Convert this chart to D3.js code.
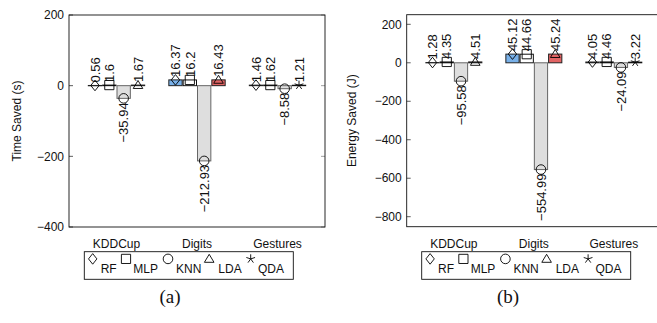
<!DOCTYPE html>
<html><head><meta charset="utf-8">
<script src="https://cdn.jsdelivr.net/npm/d3@7"></script>
<style>body{margin:0;background:#fff} svg{display:block}</style>
</head><body><svg id="c" width="657" height="323"></svg>
<script>
const categories = ["KDDCup", "Digits", "Gestures"];
const seriesNames = ["RF", "MLP", "KNN", "LDA", "QDA"];

// Time saved (s)
const timeRF  = [0.56, 16.37, 1.46];
const timeMLP = [1.6, 16.2, 1.62];
const timeKNN = [-35.94, -212.93, -8.58];
const timeLDA = [1.67, 16.43, null];
const timeQDA = [null, null, 1.21];
const timeTicks = [-400, -200, 0, 200];

// Energy saved (J)
const energyRF  = [1.28, 45.12, 4.05];
const energyMLP = [4.35, 44.66, 4.46];
const energyKNN = [-95.58, -554.99, -24.09];
const energyLDA = [4.51, 45.24, null];
const energyQDA = [null, null, 3.22];
const energyTicks = [-800, -600, -400, -200, 0, 200];

const FONT = "'Liberation Sans', Arial, Helvetica, sans-serif";
const styles = {
  RF:  {fill: "#78b0e8", stroke: "#222"},
  MLP: {fill: "#ffffff", stroke: "#111"},
  KNN: {fill: "#dedede", stroke: "#666"},
  LDA: {fill: "#e26464", stroke: "#222"},
  QDA: {fill: "#9ad09a", stroke: "#111"}
};

function markerPath(name) {
  switch (name) {
    case "RF":  return "M0,-5.3L4.2,0L0,5.3L-4.2,0Z";
    case "MLP": return "M-4.6,-4.6H4.6V4.6H-4.6Z";
    case "KNN": return d3.symbol(d3.symbolCircle, Math.PI * 4.8 * 4.8)();
    case "LDA": return "M0,-4.6L4.8,3.4L-4.8,3.4Z";
    case "QDA": {
      let p = "";
      for (let k = 0; k < 5; k++) {
        const a = -Math.PI / 2 + k * 2 * Math.PI / 5;
        p += "M0,0L" + (4.6 * Math.cos(a)).toFixed(2) + "," + (4.6 * Math.sin(a)).toFixed(2);
      }
      return p;
    }
  }
}

function fmt(v) {
  const s = String(Math.abs(v));
  return v < 0 ? "\u2212" + s : s;
}

const svg = d3.select("#c");

function drawPanel(o) {
  const g = svg.append("g");
  const x0 = d3.scalePoint().domain(categories).range([o.left, o.right]).padding(0.59);
  const y = d3.scaleLinear().domain(o.domain).range([o.bottom, o.top]);
  const inner = x0.step() * 0.7;

  // y tick labels and ticks
  o.ticks.forEach(t => {
    g.append("text").attr("x", o.left - 5).attr("y", y(t)).attr("dy", "0.35em")
      .attr("text-anchor", "end").attr("font-family", FONT).attr("font-size", 12)
      .attr("fill", "#111").text(fmt(t));
    g.append("line").attr("x1", o.left).attr("x2", o.left + 4).attr("y1", y(t)).attr("y2", y(t))
      .attr("stroke", "#333").attr("stroke-width", 0.8);
    g.append("line").attr("x1", o.right - 4).attr("x2", o.right).attr("y1", y(t)).attr("y2", y(t))
      .attr("stroke", "#888").attr("stroke-width", 0.8);
  });

  // bars
  categories.forEach((cat, ci) => {
    const present = seriesNames.filter(s => o.data[s][ci] != null);
    const x1 = d3.scaleBand().domain(present).range([-inner / 2, inner / 2]).paddingInner(0.07);
    present.forEach(s => {
      const v = o.data[s][ci];
      const bx = x0(cat) + x1(s);
      const y0 = y(0), yv = y(v);
      g.append("rect").attr("x", bx).attr("width", x1.bandwidth())
        .attr("y", Math.min(y0, yv)).attr("height", Math.max(Math.abs(y0 - yv), 0.3))
        .attr("fill", styles[s].fill).attr("stroke", styles[s].stroke).attr("stroke-width", 1);
    });
    present.forEach(s => {
      const v = o.data[s][ci];
      const cx = x0(cat) + x1(s) + x1.bandwidth() / 2;
      const cy = y(v);
      g.append("path").attr("d", markerPath(s)).attr("transform", `translate(${cx},${cy})`)
        .attr("fill", "none").attr("stroke", "#000").attr("stroke-width", 0.9);
      g.append("text").attr("transform", `translate(${cx},${cy}) rotate(-90)`)
        .attr("x", v >= 0 ? 3 : -4).attr("dy", "0.36em")
        .attr("text-anchor", v >= 0 ? "start" : "end")
        .attr("font-family", FONT).attr("font-size", 13).attr("fill", "#111")
        .text(fmt(v));
    });
  });

  // frame
  g.append("rect").attr("x", o.left).attr("y", o.top).attr("width", o.right - o.left)
    .attr("height", o.bottom - o.top).attr("fill", "none").attr("stroke", "#111").attr("stroke-width", 0.9);

  // category labels
  categories.forEach(cat => {
    g.append("text").attr("x", x0(cat)).attr("y", o.bottom + 21).attr("text-anchor", "middle")
      .attr("font-family", FONT).attr("font-size", 12).attr("fill", "#111").text(cat);
  });

  // axis title
  g.append("text").attr("transform", `translate(${o.titleX},${(o.top + o.bottom) / 2}) rotate(-90)`)
    .attr("dy", "0.35em").attr("text-anchor", "middle").attr("font-family", FONT)
    .attr("font-size", 12).attr("fill", "#111").text(o.title);

  // legend
  const lg = g.append("g").attr("transform", `translate(${o.legendX},251.7)`);
  lg.append("rect").attr("width", 209).attr("height", 27.6).attr("fill", "#fff")
    .attr("stroke", "#111").attr("stroke-width", 0.9);
  const mx = [8.4, 41.7, 83.7, 124.9, 166.4];
  const tx = [16.4, 49, 91.7, 134, 173.7];
  seriesNames.forEach((s, i) => {
    lg.append("path").attr("d", markerPath(s)).attr("transform", `translate(${mx[i]},7.2)`)
      .attr("fill", "none").attr("stroke", "#000").attr("stroke-width", 0.9);
    lg.append("text").attr("x", tx[i]).attr("y", 21.6).attr("font-family", FONT)
      .attr("font-size", 12).attr("fill", "#111").text(s);
  });

  // caption
  g.append("text").attr("x", o.captionX).attr("y", 303).attr("text-anchor", "middle")
    .attr("font-family", "'Liberation Serif', 'Times New Roman', serif").attr("font-size", 19)
    .attr("fill", "#111").text(o.caption);
}

drawPanel({
  left: 69, right: 325, top: 15, bottom: 227,
  domain: [-400, 200], ticks: timeTicks,
  data: {RF: timeRF, MLP: timeMLP, KNN: timeKNN, LDA: timeLDA, QDA: timeQDA},
  title: "Time Saved (s)", titleX: 16.5, legendX: 84.3,
  caption: "(a)", captionX: 170
});
drawPanel({
  left: 406.7, right: 661, top: 14.7, bottom: 226.7,
  domain: [-852, 250], ticks: energyTicks,
  data: {RF: energyRF, MLP: energyMLP, KNN: energyKNN, LDA: energyLDA, QDA: energyQDA},
  title: "Energy Saved (J)", titleX: 352, legendX: 421.7,
  caption: "(b)", captionX: 508
});
</script></body></html>
